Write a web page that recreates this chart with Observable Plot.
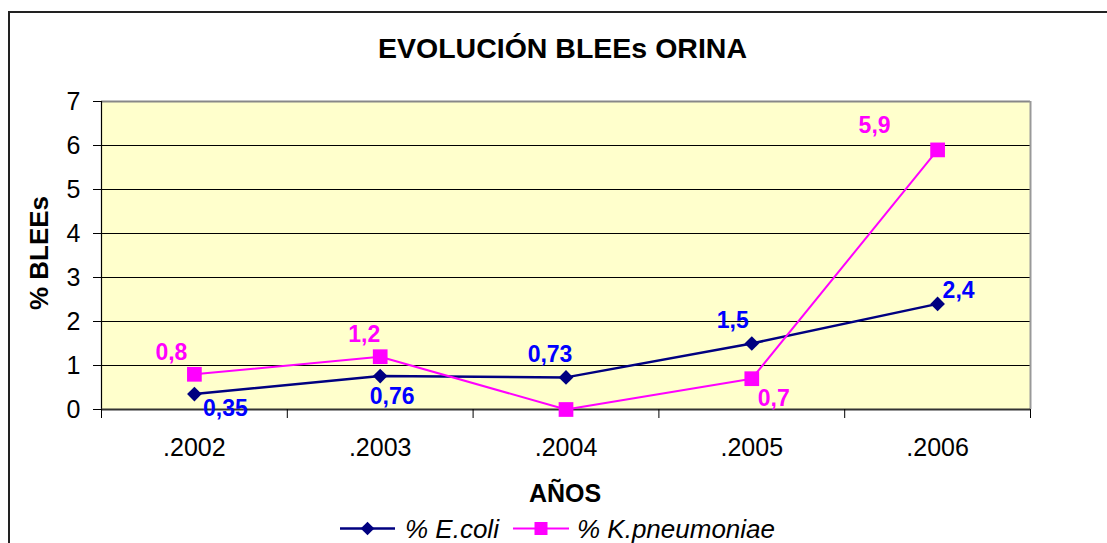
<!DOCTYPE html>
<html><head><meta charset="utf-8">
<script src="https://cdn.jsdelivr.net/npm/d3@7"></script>
<script src="https://cdn.jsdelivr.net/npm/@observablehq/plot@0.6"></script>
<style>
body{margin:0;background:#fff;font-family:"Liberation Sans",Arial,sans-serif;}
#wrap{position:relative;width:1107px;height:543px;overflow:hidden;background:#fff;}
#border{position:absolute;left:8px;top:11px;width:1300px;height:800px;border:2px solid #222;box-sizing:border-box;}
#chart,#overlay{position:absolute;left:0;top:0;}
</style></head><body>
<div id="wrap">
<div id="border"></div>
<div id="chart"></div>
<svg id="overlay" width="1107" height="543"></svg>
</div>
<script>
// ---- data ----
const years = [".2002", ".2003", ".2004", ".2005", ".2006"];
const ecoli = [0.35, 0.76, 0.73, 1.5, 2.4];
const kpneu = [0.8, 1.2, 0, 0.7, 5.9];
const ecoliLabels = ["0,35", "0,76", "0,73", "1,5", "2,4"];
const kpneuLabels = ["0,8", "1,2", null, "0,7", "5,9"];
const yTicks = [0, 1, 2, 3, 4, 5, 6, 7];
const seriesNames = ["% E.coli", "% K.pneumoniae"];
const title = "EVOLUCIÓN BLEEs ORINA";
const xLabel = "AÑOS";
const yLabel = "% BLEEs";

// ---- layout (label offsets in px) ----
const ecoliOff = [[31, 15], [12, 21], [-16, -23], [-19, -23], [21, -13]];
const kpneuOff = [[-23, -22], [-16, -22], [0, 0], [22, 20], [-63, -24]];

const ecoliData = years.map((y, i) => ({i: i + 1, v: ecoli[i], label: ecoliLabels[i]}));
const kpneuData = years.map((y, i) => ({i: i + 1, v: kpneu[i], label: kpneuLabels[i]}));
const boundaries = d3.range(years.length + 1).map(i => i + 0.5);
const centers = years.map((y, i) => i + 1);

const NAVY = "#000080", MAG = "#FF00FF", BLUE = "#0000FF";

const labelMarks = [];
ecoliData.forEach((d, k) => {
  if (d.label) labelMarks.push(Plot.text([d], {x: "i", y: "v", text: "label", fill: BLUE, fontWeight: "bold", fontSize: 23, dx: ecoliOff[k][0], dy: ecoliOff[k][1]}));
});
kpneuData.forEach((d, k) => {
  if (d.label) labelMarks.push(Plot.text([d], {x: "i", y: "v", text: "label", fill: MAG, fontWeight: "bold", fontSize: 23, dx: kpneuOff[k][0], dy: kpneuOff[k][1]}));
});

const chart = Plot.plot({
  width: 1107, height: 543,
  marginLeft: 101, marginRight: 77, marginTop: 101, marginBottom: 134,
  style: {fontFamily: "Liberation Sans, Arial, sans-serif", fontSize: "25px", background: "transparent", color: "#000"},
  x: {type: "linear", domain: [0.5, years.length + 0.5]},
  y: {domain: [0, 7]},
  marks: [
    Plot.frame({fill: "#FFFFCC", stroke: null}),
    Plot.gridY(yTicks.slice(1, -1), {stroke: "#000", strokeOpacity: 1, strokeWidth: 1}),
    Plot.ruleY([7], {stroke: "#888", strokeWidth: 2}),
    Plot.ruleX([years.length + 0.5], {stroke: "#999", strokeWidth: 2}),
    Plot.axisY({ticks: yTicks, tickSize: 8, tickPadding: 13, tickFormat: d => String(d), label: null, fontSize: 25}),
    Plot.ruleX([0.5], {stroke: "#000", strokeWidth: 1.2}),
    Plot.ruleY([0], {stroke: "#333", strokeWidth: 2}),
    Plot.axisX({ticks: boundaries, tickSize: 9, tickFormat: () => "", label: null}),
    Plot.axisX({ticks: centers, tickSize: 0, tickPadding: 29, tickFormat: d => years[Math.round(d) - 1], label: null, fontSize: 25}),
    Plot.line(ecoliData, {x: "i", y: "v", stroke: NAVY, strokeWidth: 2.5}),
    Plot.dot(ecoliData, {x: "i", y: "v", symbol: "diamond2", r: 6.6, fill: NAVY, stroke: "none"}),
    Plot.line(kpneuData, {x: "i", y: "v", stroke: MAG, strokeWidth: 2}),
    Plot.dot(kpneuData, {x: "i", y: "v", symbol: "square", r: 8.3, fill: MAG, stroke: "none"}),
    ...labelMarks
  ]
});
document.getElementById("chart").appendChild(chart);

// ---- titles & legend ----
const ov = d3.select("#overlay");
const ff = "Liberation Sans, Arial, sans-serif";
ov.append("text").attr("x", 562.5).attr("y", 57.5).attr("text-anchor", "middle")
  .attr("font-family", ff).attr("font-weight", "bold").attr("font-size", 28.5).text(title);
ov.append("text").attr("x", 565).attr("y", 502).attr("text-anchor", "middle")
  .attr("font-family", ff).attr("font-weight", "bold").attr("font-size", 25).text(xLabel);
ov.append("text").attr("transform", "translate(48,253) rotate(-90)").attr("text-anchor", "middle")
  .attr("font-family", ff).attr("font-weight", "bold").attr("font-size", 26).text(yLabel);

const lg = [{x0: 340, x1: 395, c: NAVY, sym: "diamond", tx: 405}, {x0: 513, x1: 569, c: MAG, sym: "square", tx: 577}];
lg.forEach((L, k) => {
  const cy = 528.5, cx = (L.x0 + L.x1) / 2;
  ov.append("line").attr("x1", L.x0).attr("x2", L.x1).attr("y1", cy).attr("y2", cy).attr("stroke", L.c).attr("stroke-width", k === 0 ? 2.5 : 2);
  if (L.sym === "diamond") {
    ov.append("path").attr("d", `M${cx},${cy - 6.8}L${cx + 6.8},${cy}L${cx},${cy + 6.8}L${cx - 6.8},${cy}Z`).attr("fill", L.c);
  } else {
    ov.append("rect").attr("x", cx - 6.5).attr("y", cy - 6.5).attr("width", 13).attr("height", 13).attr("fill", L.c);
  }
  ov.append("text").attr("x", L.tx).attr("y", 538).attr("font-family", ff).attr("font-style", "italic").attr("font-size", 26).text(seriesNames[k]);
});
</script>
</body></html>
